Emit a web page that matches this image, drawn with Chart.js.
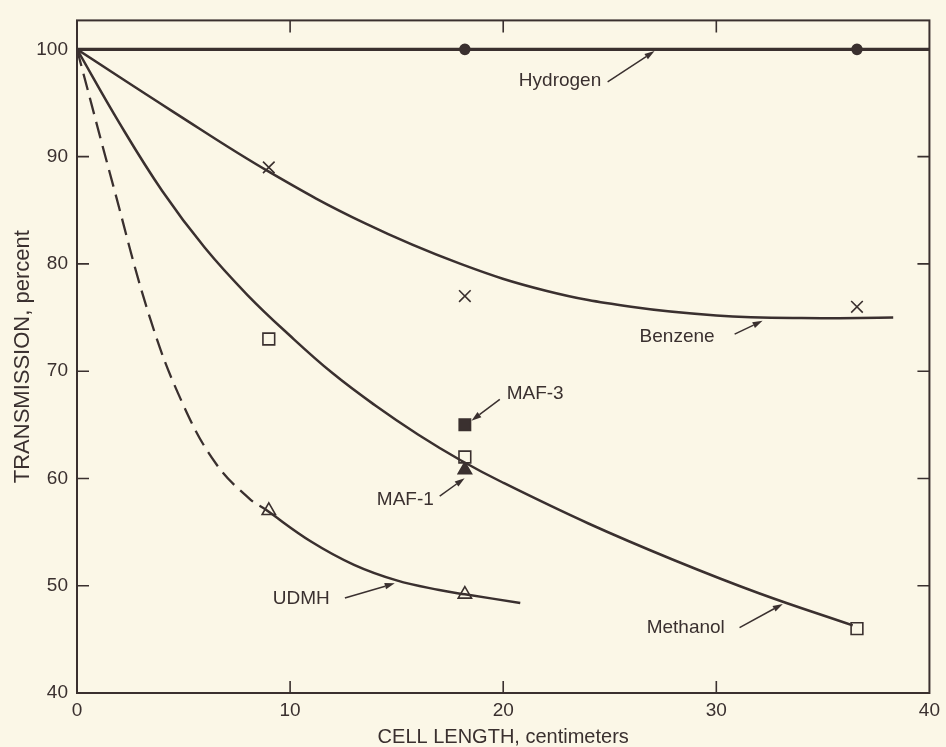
<!DOCTYPE html>
<html><head><meta charset="utf-8">
<script src="https://cdn.jsdelivr.net/npm/chart.js@4"></script>
<style>html,body{margin:0;padding:0;background:#fbf7e7;}canvas{display:block}</style>
</head><body>
<canvas id="c" width="946" height="747"></canvas>
<script>
// ---- data ----
const xTicks = [0, 10, 20, 30, 40];
const yTicks = [40, 50, 60, 70, 80, 90, 100];

const hydrogenCurveX = [0, 40];
const hydrogenCurveY = [100, 100];
const hydrogenPointsX = [18.2, 36.6];
const hydrogenPointsY = [100, 100];

const benzeneCurveX = [0, 4.5, 9, 13.5, 18, 22, 26, 30, 34, 38.3];
const benzeneCurveY = [100, 94.2, 88.6, 83.8, 80, 77.5, 76, 75.2, 74.95, 75];
const benzenePointsX = [9, 18.2, 36.6];
const benzenePointsY = [89, 77, 76];

const methanolCurveX = [0, 2, 4, 6, 8, 10, 12, 14, 16, 18, 20, 24, 28, 32, 36.4];
const methanolCurveY = [100, 93.1, 86.8, 81.5, 77.1, 73.3, 69.8, 66.8, 64.1, 61.7, 59.6, 55.8, 52.4, 49.3, 46.3];
const methanolPointsX = [9, 18.2, 36.6];
const methanolPointsY = [73, 62, 46];

const maf3PointsX = [18.2];
const maf3PointsY = [65];
const maf1PointsX = [18.2];
const maf1PointsY = [60.8];

const udmhDashedX = [0, 1.7, 3.45, 5, 6.55, 8.1, 8.85];
const udmhDashedY = [100, 87.3, 74.8, 66.8, 61.3, 58.1, 57.1];
const udmhCurveX = [8.85, 11, 13, 15, 17, 18.2, 20.8];
const udmhCurveY = [57.1, 54.1, 51.95, 50.5, 49.6, 49.2, 48.4];
const udmhPointsX = [9, 18.2];
const udmhPointsY = [57, 49.2];

// annotation labels (data coordinates)
const noteText  = ['Hydrogen', 'Benzene', 'Methanol', 'MAF-3', 'MAF-1', 'UDMH'];
const noteX     = [24.6, 26.4, 26.73, 20.16, 14.07, 9.19];
const noteY     = [97.09, 73.17, 46.06, 67.93, 58.05, 48.82];
const noteAlign = ['right', 'left', 'left', 'left', 'left', 'left'];
const arrowFromX = [24.9, 30.86, 31.09, 19.84, 17.02, 12.57];
const arrowFromY = [96.97, 73.45, 46.09, 67.38, 58.35, 48.85];
const arrowToX   = [27.1, 32.17, 33.12, 18.51, 18.19, 14.91];
const arrowToY   = [99.84, 74.7, 48.30, 65.39, 60.03, 50.22];

// ---- styling ----
const INK = '#3a302f';
const BG = '#fbf7e7';
const FONT = '"Liberation Sans", Arial, sans-serif';

const pts = (xs, ys) => xs.map((x, i) => ({x: x, y: ys[i]}));
const curve = (label, xs, ys, extra) => Object.assign({
  label: label, data: pts(xs, ys), showLine: true, borderColor: INK, borderWidth: 2.5,
  pointRadius: 0, pointHoverRadius: 0, tension: 0.4, fill: false
}, extra || {});
const marks = (label, xs, ys, style, radius, filled, extra) => Object.assign({
  label: label, data: pts(xs, ys), showLine: false, pointStyle: style,
  pointRadius: radius, pointHoverRadius: radius,
  pointBackgroundColor: filled ? INK : BG, pointBorderColor: INK, pointBorderWidth: 1.6
}, extra || {});

const decor = {
  id: 'decor',
  beforeDraw(chart) {
    const c = chart.ctx;
    c.save(); c.fillStyle = BG; c.fillRect(0, 0, chart.width, chart.height); c.restore();
  },
  beforeDatasetsDraw(chart) {
    const c = chart.ctx, a = chart.chartArea, xs = chart.scales.x, ys = chart.scales.y;
    c.save();
    c.strokeStyle = INK; c.lineWidth = 2;
    c.strokeRect(a.left, a.top, a.right - a.left, a.bottom - a.top);
    c.lineWidth = 1.6;
    const L = 12;
    c.beginPath();
    xTicks.slice(1, -1).forEach(v => {
      const p = xs.getPixelForValue(v);
      c.moveTo(p, a.bottom); c.lineTo(p, a.bottom - L);
      c.moveTo(p, a.top); c.lineTo(p, a.top + L);
    });
    yTicks.slice(1, -1).forEach(v => {
      const p = ys.getPixelForValue(v);
      c.moveTo(a.left, p); c.lineTo(a.left + L, p);
      c.moveTo(a.right, p); c.lineTo(a.right - L, p);
    });
    c.stroke();
    c.restore();
  },
  afterDatasetsDraw(chart) {
    const c = chart.ctx, xs = chart.scales.x, ys = chart.scales.y;
    c.save();
    c.fillStyle = INK; c.strokeStyle = INK;
    c.font = '19px ' + FONT;
    c.textBaseline = 'middle';
    noteText.forEach((t, i) => {
      c.textAlign = noteAlign[i];
      c.fillText(t, xs.getPixelForValue(noteX[i]), ys.getPixelForValue(noteY[i]));
      const x0 = xs.getPixelForValue(arrowFromX[i]), y0 = ys.getPixelForValue(arrowFromY[i]);
      const x1 = xs.getPixelForValue(arrowToX[i]), y1 = ys.getPixelForValue(arrowToY[i]);
      const ang = Math.atan2(y1 - y0, x1 - x0);
      const hl = 10, hw = 3.2;
      const bx = x1 - hl * Math.cos(ang), by = y1 - hl * Math.sin(ang);
      c.lineWidth = 1.5;
      c.beginPath(); c.moveTo(x0, y0); c.lineTo(bx, by); c.stroke();
      c.beginPath();
      c.moveTo(x1, y1);
      c.lineTo(bx + hw * Math.sin(ang), by - hw * Math.cos(ang));
      c.lineTo(bx - hw * Math.sin(ang), by + hw * Math.cos(ang));
      c.closePath(); c.fill();
    });
    c.restore();
  }
};

new Chart(document.getElementById('c'), {
  type: 'scatter',
  data: {
    datasets: [
      curve('Hydrogen', hydrogenCurveX, hydrogenCurveY, {borderWidth: 3.2, tension: 0}),
      curve('Benzene', benzeneCurveX, benzeneCurveY),
      curve('Methanol', methanolCurveX, methanolCurveY),
      curve('UDMH (extrapolated)', udmhDashedX, udmhDashedY, {borderDash: [17, 8], borderWidth: 2.3}),
      curve('UDMH', udmhCurveX, udmhCurveY),
      marks('Hydrogen data', hydrogenPointsX, hydrogenPointsY, 'circle', 5, true),
      marks('Benzene data', benzenePointsX, benzenePointsY, 'crossRot', 8.2, false, {pointBorderWidth: 1.6}),
      marks('Methanol data', methanolPointsX, methanolPointsY, 'rect', 8.3, false),
      marks('MAF-3', maf3PointsX, maf3PointsY, 'rect', 8, true),
      marks('MAF-1', maf1PointsX, maf1PointsY, 'triangle', 7.7, true),
      marks('UDMH data', udmhPointsX, udmhPointsY, 'triangle', 7.7, false)
    ]
  },
  options: {
    responsive: false, animation: false, devicePixelRatio: 1,
    layout: {padding: {top: 11, right: 16, left: 0, bottom: 0}},
    plugins: {legend: {display: false}, tooltip: {enabled: false}},
    scales: {
      x: {
        type: 'linear', min: 0, max: 40,
        afterBuildTicks: s => { s.ticks = xTicks.map(v => ({value: v})); },
        afterFit: s => { s.height = 54; },
        grid: {display: false, drawTicks: false}, border: {display: false},
        ticks: {color: INK, font: {family: FONT, size: 19}, padding: 6, maxRotation: 0, autoSkip: false},
        title: {display: true, text: 'CELL LENGTH, centimeters', color: INK,
                font: {family: FONT, size: 20, lineHeight: 1}, padding: {top: 0, bottom: 0}}
      },
      y: {
        type: 'linear', min: 40, max: 102.7,
        afterBuildTicks: s => { s.ticks = yTicks.map(v => ({value: v})); },
        afterFit: s => { s.width = 77; },
        grid: {display: false, drawTicks: false}, border: {display: false},
        ticks: {color: INK, font: {family: FONT, size: 19}, padding: 9, autoSkip: false},
        title: {display: true, text: 'TRANSMISSION, percent', color: INK,
                font: {family: FONT, size: 22, lineHeight: 1}, padding: {top: 12, bottom: 0}}
      }
    }
  },
  plugins: [decor]
});
</script>
</body></html>
